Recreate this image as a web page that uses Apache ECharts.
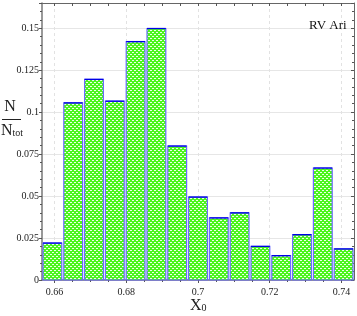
<!DOCTYPE html>
<html><head><meta charset="utf-8">
<script src="https://cdn.jsdelivr.net/npm/echarts@6/dist/echarts.min.js"></script>
<style>html,body{margin:0;padding:0;background:#fff}#c{width:357px;height:316px}</style>
</head><body><div id="c"></div>
<script>
// ---- data ----
var binEdges = [0.6565,0.6623,0.6681,0.6739,0.6797,0.6855,0.6913,0.6971,0.7029,0.7087,0.7145,0.7203,0.7261,0.7319,0.7377,0.7435];
var fractions = [0.022,0.1055,0.1195,0.1065,0.142,0.1498,0.0798,0.0494,0.037,0.040,0.020,0.0145,0.027,0.0667,0.0185];
var xTicks = [0.66,0.68,0.70,0.72,0.74];
var xMinorTicks = [0.665,0.67,0.675,0.685,0.69,0.695,0.705,0.71,0.715,0.725,0.73,0.735];
var xTickLabels = ['0.66','0.68','0.7','0.72','0.74'];
var yTickLabels = {'0':'0','0.025':'0.025','0.05':'0.05','0.075':'0.075','0.1':'0.1','0.125':'0.125','0.15':'0.15'};
var starName = 'RV Ari';

var chart = echarts.init(document.getElementById('c'), null, {renderer:'canvas'});

// dotted green fill pattern
var pc = document.createElement('canvas');
pc.width = 4; pc.height = 4;
var g = pc.getContext('2d');
g.fillStyle = '#4cf51e'; g.fillRect(0,0,4,4);
g.fillStyle = 'rgba(255,255,255,0.9)';
g.fillRect(0,0,2,1); g.fillRect(2,2,2,1);

var rows = fractions.map(function(v,i){ return [binEdges[i], binEdges[i+1], v]; });

var serifFont = '"Liberation Serif","DejaVu Serif",serif';
var MIN = binEdges[0], MAX = binEdges[binEdges.length-1];

chart.setOption({
  animation:false,
  grid:{left:42, right:3, top:3, bottom:36, containLabel:false, outerBoundsMode:'none'},
  xAxis:[
    {type:'value', position:'bottom', min:MIN, max:MAX,
     axisLine:{show:true, onZero:false, lineStyle:{color:'#777', width:1.5}},
     axisTick:{show:true, customValues:xTicks, length:3, lineStyle:{color:'#555'}},
     axisLabel:{show:true, customValues:xTicks, margin:7, fontFamily:serifFont, fontSize:10, color:'#222',
       formatter:function(v){ var i = xTicks.indexOf(v); return i>=0 ? xTickLabels[i] : ''; }},
     splitLine:{show:true, lineStyle:{color:'#e2e2e2', type:[3,3], width:1}}
    },
    {type:'value', position:'bottom', min:MIN, max:MAX,
     axisLine:{show:false, onZero:false}, axisLabel:{show:false}, splitLine:{show:false},
     axisTick:{show:true, customValues:xMinorTicks, length:2, lineStyle:{color:'#555'}}},
    {type:'value', position:'top', min:MIN, max:MAX,
     axisLine:{show:true, onZero:false, lineStyle:{color:'#666', width:1}}, axisLabel:{show:false}, splitLine:{show:false},
     axisTick:{show:true, inside:true, customValues:xTicks.concat(xMinorTicks), length:3, lineStyle:{color:'#555'}}}
  ],
  yAxis:[
    {type:'value', position:'left', min:0, max:0.165, interval:0.025,
     axisLine:{show:true, onZero:false, lineStyle:{color:'#777', width:1.5}},
     axisTick:{show:true, length:3, lineStyle:{color:'#555'}},
     minorTick:{show:true, splitNumber:5, length:2, lineStyle:{color:'#555'}},
     axisLabel:{showMaxLabel:false, margin:3, fontFamily:serifFont, fontSize:10, color:'#222',
       formatter:function(v){ var k = String(+v.toFixed(3)); return yTickLabels[k] !== undefined ? yTickLabels[k] : ''; }},
     splitLine:{show:true, lineStyle:{color:'#e6e6e6', width:1}}
    },
    {type:'value', position:'right', min:0, max:0.165, interval:0.025,
     axisLine:{show:true, onZero:false, lineStyle:{color:'#666', width:1}},
     axisTick:{show:true, inside:true, length:3, lineStyle:{color:'#555'}},
     minorTick:{show:true, splitNumber:5, length:2, lineStyle:{color:'#555'}},
     axisLabel:{show:false}, splitLine:{show:false}}
  ],
  series:[{
    type:'custom', xAxisIndex:0, yAxisIndex:0,
    data:rows,
    encode:{x:[0,1], y:2},
    renderItem:function(params, api){
      var p0 = api.coord([api.value(0), api.value(2)]);
      var p1 = api.coord([api.value(1), 0]);
      var x0 = p0[0] + 1, x1 = p1[0] - 1;
      var y0 = p0[1], y1 = p1[1];
      return {type:'group', children:[
        {type:'rect', shape:{x:x0, y:y0, width:x1-x0, height:y1-y0},
         style:{fill:{image:pc, repeat:'repeat'}, stroke:'#6a6aff', lineWidth:1.2}},
        {type:'line', shape:{x1:x0, y1:y0, x2:x1, y2:y0}, style:{stroke:'#0000e6', lineWidth:1.3}}
      ]};
    }
  }],
  graphic:[
    {type:'text', left:309, top:19, z:100, style:{text:starName, font:'13px "Liberation Serif",serif', fill:'#111'}},
    {type:'text', x:10, y:107, style:{text:'N', font:'16px "Liberation Serif",serif', fill:'#222', align:'center', verticalAlign:'middle'}},
    {type:'line', shape:{x1:2, y1:119.5, x2:21, y2:119.5}, style:{stroke:'#222', lineWidth:1}},
    {type:'text', x:1, y:131, style:{text:'{n|N}{t|tot}', fill:'#222', verticalAlign:'middle',
      rich:{n:{font:'16px "Liberation Serif",serif', fill:'#222'}, t:{font:'10px "Liberation Serif",serif', fill:'#222', padding:[5,0,0,0]}}}},
    {type:'text', x:190, y:306, style:{text:'{x|X}{s|0}', fill:'#222', verticalAlign:'middle',
      rich:{x:{font:'16px "Liberation Serif",serif', fill:'#222'}, s:{font:'10px "Liberation Serif",serif', fill:'#222', padding:[5,0,0,0]}}}}
  ]
});
</script></body></html>
